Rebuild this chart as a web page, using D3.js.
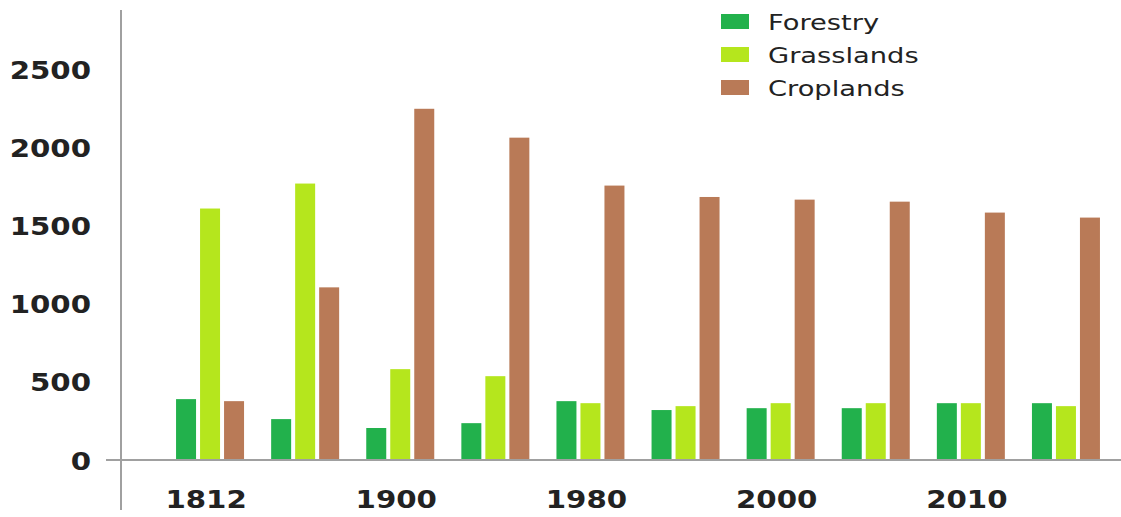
<!DOCTYPE html>
<html>
<head>
<meta charset="utf-8">
<script src="https://cdn.jsdelivr.net/npm/d3@7"></script>
<style>
  body { margin: 0; background: #fff; }
  svg { display: block; }
</style>
</head>
<body>
<div id="chart"></div>
<script>

// groups along the x axis, only every other one carries a label
var categories = ["1812", "", "1900", "", "1980", "", "2000", "", "2010", ""];
var seriesNames = ["Forestry", "Grasslands", "Croplands"];
var forestry   = [390, 262, 205, 236, 377, 320, 332, 332, 364, 364];
var grasslands = [1611, 1771, 582, 537, 364, 345, 364, 364, 364, 345];
var croplands  = [377, 1106, 2250, 2065, 1758, 1685, 1668, 1655, 1585, 1553];
var yTicks = [0, 500, 1000, 1500, 2000, 2500];

var colors = ["#22b14c", "#b5e61d", "#b97a57"];
var width  = 1121;
var height = 517;

var series = [forestry, grasslands, croplands];

var svg = d3.select('#chart')
    .append('svg')
    .attr('width', width)
    .attr('height', height);

var y = d3.scaleLinear()
    .domain([0, 2870])
    .range([460, 12]);

var x = d3.scaleBand()
    .domain(d3.range(categories.length))
    .range([162.5, 1113.5])
    .paddingInner(0.285)
    .paddingOuter(0.1425);

var xInner = d3.scaleBand()
    .domain(d3.range(series.length))
    .range([0, x.bandwidth()])
    .paddingInner(0.167);

// bars
var groups = svg.selectAll('g.group')
    .data(categories.map(function(c, i) { return i; }))
    .enter()
    .append('g')
    .attr('class', 'group')
    .attr('transform', function(i) { return 'translate(' + x(i) + ',0)'; });

groups.selectAll('rect')
    .data(function(i) {
        return series.map(function(s, k) { return {k: k, value: s[i]}; });
    })
    .enter()
    .append('rect')
    .attr('x', function(d) { return xInner(d.k); })
    .attr('y', function(d) { return y(d.value); })
    .attr('width', xInner.bandwidth())
    .attr('height', function(d) { return y(0) - y(d.value); })
    .attr('fill', function(d) { return colors[d.k]; });

// axis lines
svg.append('line')
    .attr('x1', 121).attr('x2', 121)
    .attr('y1', 10).attr('y2', 510)
    .attr('stroke', '#a0a0a0')
    .attr('stroke-width', 2);

svg.append('line')
    .attr('x1', 106).attr('x2', width)
    .attr('y1', y(0)).attr('y2', y(0))
    .attr('stroke', '#a0a0a0')
    .attr('stroke-width', 2);

// y axis labels
var yAxis = svg.append('g')
    .attr('transform', 'translate(91,0)')
    .call(d3.axisLeft(y).tickValues(yTicks).tickFormat(d3.format('d')).tickSize(0).tickPadding(0));
yAxis.select('.domain').remove();
yAxis.selectAll('text')
    .attr('x', 0)
    .attr('dy', '0.36em')
    .attr('transform', 'scale(1.17,1)')
    .attr('fill', '#222')
    .style('font-family', 'DejaVu Sans')
    .style('font-weight', 'bold')
    .style('font-size', '25px');

// x axis labels
var xAxis = svg.append('g')
    .attr('transform', 'translate(-4,490)')
    .call(d3.axisBottom(x).tickFormat(function(i) { return categories[i]; }).tickSize(0).tickPadding(0));
xAxis.select('.domain').remove();
xAxis.selectAll('text')
    .attr('y', 0)
    .attr('dy', '0.71em')
    .attr('transform', 'scale(1.17,1)')
    .attr('fill', '#222')
    .style('font-family', 'DejaVu Sans')
    .style('font-weight', 'bold')
    .style('font-size', '25px');

// legend
var legend = svg.selectAll('g.legend')
    .data(seriesNames)
    .enter()
    .append('g')
    .attr('class', 'legend')
    .attr('transform', function(d, i) { return 'translate(721,' + (14 + i * 33) + ')'; });

legend.append('rect')
    .attr('width', 28)
    .attr('height', 15)
    .attr('fill', function(d, i) { return colors[i]; });

legend.append('text')
    .attr('transform', 'translate(47,8) scale(1.3,1)')
    .attr('dy', '0.36em')
    .attr('fill', '#222')
    .style('font-family', 'DejaVu Sans')
    .style('font-size', '21px')
    .text(function(d) { return d; });

</script>
</body>
</html>
